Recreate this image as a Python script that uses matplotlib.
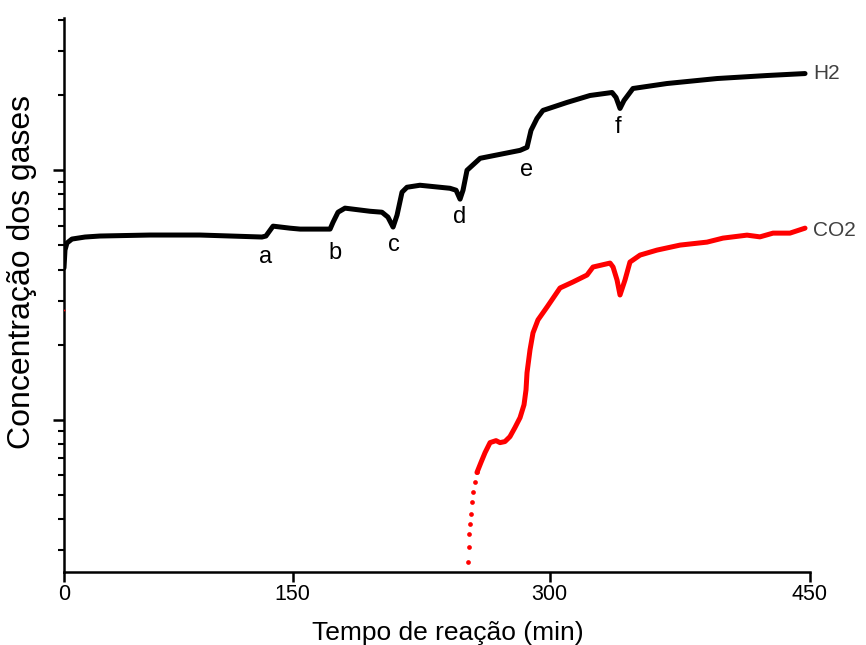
import matplotlib
matplotlib.use("Agg")
import matplotlib.pyplot as plt
from matplotlib.ticker import LogLocator, NullFormatter, FixedLocator, FixedFormatter

# ---- data ----
h2_t = [0.0, 0.6, 1.8, 4.8, 12.7, 21.7, 51.9, 82.0, 119.4, 121.8, 126.1, 136.3,
        142.4, 160.5, 162.3, 165.3, 169.5, 184.6, 191.8, 195.4, 198.5, 200.9,
        203.9, 206.9, 214.7, 232.8, 236.5, 238.9, 240.7, 243.1, 251.0, 275.1,
        279.3, 281.7, 285.3, 288.9, 303.4, 317.3, 330.6, 333.0, 335.4, 337.8,
        343.2, 363.7, 393.9, 424.1, 447.0]
h2_c = [4.06, 4.79, 5.11, 5.30, 5.40, 5.45, 5.50, 5.50, 5.40, 5.45, 5.97, 5.86,
        5.81, 5.81, 6.19, 6.79, 7.05, 6.85, 6.79, 6.49, 5.92, 6.61,
        8.17, 8.55, 8.71, 8.47, 8.32, 7.66, 8.32, 10.0, 11.17, 12.02,
        12.36, 14.45, 16.14, 17.38, 18.71, 19.95, 20.51, 19.59, 17.70, 19.05,
        21.28, 22.28, 23.33, 23.99, 24.43]

co2_t = [243.7, 244.3, 244.5, 244.9, 245.5, 246.1, 246.7, 247.9, 249.1, 251.5,
         254.0, 257.0, 260.6, 263.0, 266.0, 269.0, 272.0, 275.1, 277.5, 278.7,
         279.3, 281.1, 282.9, 285.9, 291.4, 299.2, 307.0, 315.5, 319.1, 329.4,
         331.2, 333.6, 335.4, 338.4, 341.4, 347.5, 357.7, 371.6, 387.9, 397.5,
         412.0, 419.8, 427.7, 437.9, 447.0]
co2_c = [0.268, 0.310, 0.347, 0.380, 0.417, 0.466, 0.511, 0.560, 0.614, 0.673,
         0.738, 0.809, 0.824, 0.809, 0.817, 0.855, 0.929, 1.019, 1.148, 1.318,
         1.542, 1.905, 2.228, 2.512, 2.831, 3.373, 3.565, 3.802, 4.093, 4.246,
         4.093, 3.631, 3.162, 3.631, 4.285, 4.571, 4.786, 5.012, 5.152, 5.346,
         5.495, 5.408, 5.598, 5.598, 5.861]
co2_stray_t = [0.0]
co2_stray_c = [2.75]

event_labels = ['a', 'b', 'c', 'd', 'e', 'f']
event_t = [121.3, 163.7, 198.8, 238.9, 279.3, 334.2]
event_c = [4.49, 4.66, 5.01, 6.49, 10.0, 14.86]

series_names = ['H2', 'CO2']
xtick_labels = ['0', '150', '300', '450']
xtick_pos = [0, 138, 293, 450]

FONT = ['Liberation Sans', 'DejaVu Sans']

# ---- figure ----
fig = plt.figure(figsize=(8.66, 6.45), dpi=100)
ax = fig.add_axes([64/866, 73/645, 746/866, 554/645])

ax.plot(h2_t, h2_c, color='black', lw=3.6, solid_capstyle='round',
        solid_joinstyle='round', zorder=3)
n_sparse = 8
ax.plot(co2_t[n_sparse:], co2_c[n_sparse:], color='#ff0000', lw=3.6,
        solid_capstyle='round', solid_joinstyle='round', zorder=3)
ax.plot(co2_t[:n_sparse + 1], co2_c[:n_sparse + 1], 'o', color='#ff0000',
        ms=3.4, mew=0, zorder=3)
ax.plot(co2_stray_t, co2_stray_c, 's', color='#ff0000', ms=1.2, mew=0, zorder=4)

ax.set_yscale('log')
ax.set_xlim(0, 450)
ax.set_ylim(0.245, 40.8)

ax.yaxis.set_major_locator(LogLocator(base=10, numticks=10))
ax.yaxis.set_minor_locator(LogLocator(base=10, subs=range(2, 10), numticks=20))
ax.yaxis.set_major_formatter(NullFormatter())
ax.yaxis.set_minor_formatter(NullFormatter())

ax.xaxis.set_major_locator(FixedLocator(xtick_pos))
ax.xaxis.set_major_formatter(FixedFormatter(xtick_labels))

for s in ['top', 'right']:
    ax.spines[s].set_visible(False)
for s in ['left', 'bottom']:
    ax.spines[s].set_linewidth(1.8)

ax.tick_params(axis='y', which='major', direction='out', length=8, width=1.8)
ax.tick_params(axis='y', which='minor', direction='out', length=4.3, width=1.5)
ax.tick_params(axis='x', which='major', direction='out', length=7, width=1.8, pad=1.5)

for lab in ax.get_xticklabels():
    lab.set_fontfamily(FONT)
    lab.set_fontsize(15.5)

ax.set_xlabel('Tempo de reação (min)', fontsize=19, family=FONT)
ax.xaxis.set_label_coords(0.515, -0.088)
ax.xaxis.label.set_va('top')
ax.set_ylabel('Concentração dos gases', fontsize=23, family=FONT)
ax.yaxis.set_label_coords(-0.036, 0.541)

for lab, t, c in zip(event_labels, event_t, event_c):
    ax.text(t, c, lab, fontsize=17, family=FONT,
            ha='center', va='center', color='black')

ax.text(452, h2_c[-1], series_names[0], fontsize=15, color='#404040',
        family=FONT, ha='left', va='center', clip_on=False)
ax.text(452, co2_c[-1] * 0.98, series_names[1], fontsize=15, color='#404040',
        family=FONT, ha='left', va='center', clip_on=False)

fig.savefig('out.png', dpi=100)
